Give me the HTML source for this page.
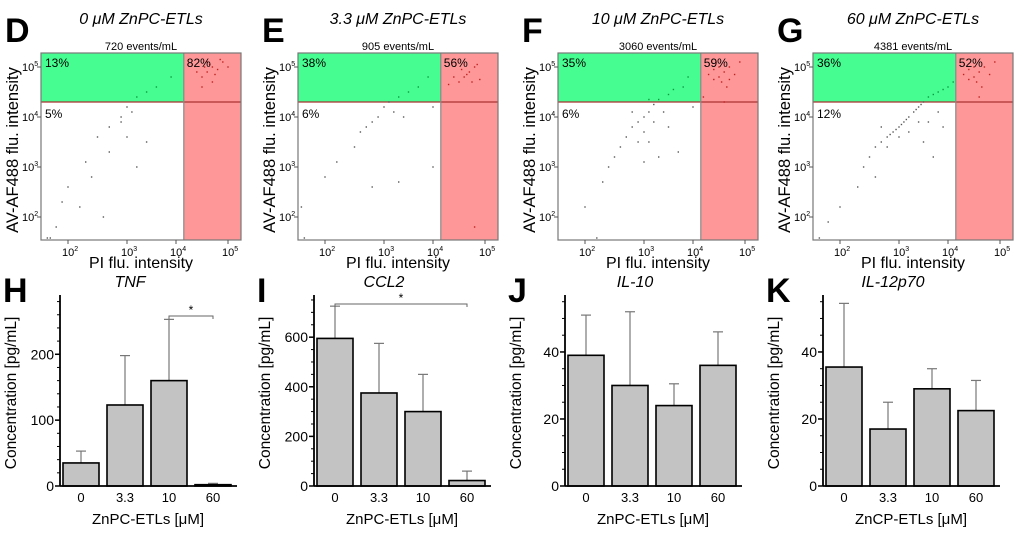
<!DOCTYPE html>
<html><head><meta charset="utf-8"><style>
body{margin:0;background:#fff;}
svg{display:block;font-family:"Liberation Sans",sans-serif;}
</style></head><body>
<svg id="fig" width="1024" height="534" viewBox="0 0 1024 534" xmlns="http://www.w3.org/2000/svg"></svg>
<script>
// ---------- Flow cytometry panel data ----------
const flowLetters = ['D','E','F','G'];
const flowTitles = ['0 μM ZnPC-ETLs','3.3 μM ZnPC-ETLs','10 μM ZnPC-ETLs','60 μM ZnPC-ETLs'];
const flowEvents = ['720 events/mL','905 events/mL','3060 events/mL','4381 events/mL'];
const flowUL = ['13%','38%','35%','36%'];
const flowUR = ['82%','56%','59%','52%'];
const flowLL = ['5%','6%','6%','12%'];
const xTickLabels = ['2','3','4','5'];
const yTickLabels = ['5','4','3','2'];
const gateX = 4.15, gateY = 4.3;
// points as [log10 PI, log10 AV]
const ptsD = [[4.6,4.9],[4.7,5.0],[4.5,4.8],[4.8,4.95],[4.65,5.05],[4.9,5.1],[4.55,5.0],[4.75,4.85],[4.4,4.9],[5.0,5.0],[4.7,4.7],[4.85,5.15],[4.6,5.1],[4.5,4.6],[3.9,4.8],[3.6,4.6],[3.4,4.5],[3.2,4.4],[3.0,4.2],[3.1,4.1],[2.9,4.0],[2.7,3.8],[2.5,3.6],[2.7,3.3],[2.3,3.1],[2.4,2.8],[2.0,2.6],[1.9,2.3],[1.8,1.8],[2.2,2.2],[2.6,2.0],[1.7,1.5],[3.0,3.6],[3.4,3.5],[2.9,3.9],[3.2,3.0],[1.65,1.5]];
const ptsE = [[4.6,4.8],[4.7,4.9],[4.5,4.7],[4.8,5.0],[4.65,4.85],[4.9,4.75],[4.55,4.95],[4.75,4.7],[4.4,4.8],[4.85,5.05],[4.3,4.65],[3.9,4.8],[3.7,4.6],[3.5,4.5],[3.3,4.4],[3.1,4.3],[3.0,4.2],[2.9,4.0],[2.8,3.9],[2.7,3.8],[2.6,3.7],[3.2,4.1],[3.4,4.0],[2.5,3.4],[2.2,3.1],[2.0,2.8],[1.6,2.2],[2.8,2.6],[3.3,2.7],[4.0,3.0],[4.0,4.2],[1.65,1.5],[4.8,1.8]];
const ptsF = [[4.5,4.8],[4.6,4.9],[4.4,4.75],[4.7,5.0],[4.55,4.7],[4.8,4.85],[4.5,5.0],[4.65,4.6],[4.3,4.85],[4.9,5.1],[4.2,4.4],[4.6,4.3],[4.4,4.95],[4.7,4.75],[3.9,4.8],[3.8,4.6],[3.6,4.55],[3.5,4.45],[3.3,4.35],[3.2,4.25],[3.1,4.1],[3.0,4.0],[2.9,3.9],[2.8,3.8],[3.0,3.7],[2.7,3.6],[3.2,3.9],[2.9,3.5],[2.6,3.4],[3.4,4.1],[3.5,3.8],[3.1,3.5],[2.5,3.2],[2.4,3.0],[3.3,3.2],[3.0,3.1],[2.3,2.7],[2.0,2.2],[3.7,3.3],[4.0,4.2],[2.8,4.1],[3.1,4.35],[2.2,1.5]];
const ptsG = [[4.5,4.8],[4.6,4.9],[4.4,4.75],[4.7,5.0],[4.55,4.7],[4.8,4.85],[4.5,5.0],[4.65,4.6],[4.3,4.85],[4.9,5.1],[4.6,4.4],[4.4,4.95],[4.1,4.7],[4.0,4.6],[3.9,4.55],[3.8,4.5],[3.7,4.45],[3.6,4.4],[3.5,4.3],[3.4,4.2],[3.3,4.1],[3.2,4.0],[3.1,3.9],[3.0,3.8],[2.9,3.7],[2.8,3.6],[2.7,3.5],[2.6,3.4],[3.15,3.95],[3.05,3.85],[2.95,3.75],[3.35,4.15],[3.45,4.25],[2.85,3.65],[3.0,3.6],[3.2,3.7],[3.4,3.9],[2.8,3.4],[2.5,3.2],[2.4,3.0],[3.6,3.9],[3.8,4.1],[3.5,3.5],[2.3,2.6],[2.0,2.2],[1.8,1.9],[3.7,3.2],[2.6,2.8],[1.65,1.5],[3.9,3.8],[2.7,3.8]];
const flowPts = [ptsD, ptsE, ptsF, ptsG];

// ---------- Bar panel data ----------
const barLetters = ['H','I','J','K'];
const barTitles = ['TNF','CCL2','IL-10','IL-12p70'];
const barCats = ['0','3.3','10','60'];
const barXTitles = ['ZnPC-ETLs [μM]','ZnPC-ETLs [μM]','ZnPC-ETLs [μM]','ZnCP-ETLs [μM]'];
const tnfVals = [35,123,160,2];
const tnfErr = [18,75,93,2];
const ccl2Vals = [595,375,300,22];
const ccl2Err = [130,200,150,38];
const il10Vals = [39,30,24,36];
const il10Err = [12,22,6.5,10];
const il12Vals = [35.5,17,29,22.5];
const il12Err = [19,8,6,9];
const barVals = [tnfVals, ccl2Vals, il10Vals, il12Vals];
const barErrs = [tnfErr, ccl2Err, il10Err, il12Err];
const majorTicks = [[0,100,200],[0,200,400,600],[0,20,40],[0,20,40]];
const minorStep = [20,50,5,5];
const axisMax = [290,770,57,57];
const sigBrackets = [[2,3],[0,3],null,null];

const NS='http://www.w3.org/2000/svg';
const svg=document.getElementById('fig');
function mk(tag,attrs,parent,text){const e=document.createElementNS(NS,tag);for(const k in attrs)e.setAttribute(k,attrs[k]);if(text!==undefined)e.textContent=text;(parent||svg).appendChild(e);return e;}

// ---------- Flow panels ----------
const boxLefts=[41,298,558,813], boxW=200, boxTop=53, boxBot=240;
const xTickOff=[27,86,135,187];
function xLog(l,left){
  let i=Math.min(2,Math.max(0,Math.floor(l-2)));
  return left+xTickOff[i]+(l-2-i)*(xTickOff[i+1]-xTickOff[i]);
}
function yLog(l){return 117-(l-4)*50;}
for(let p=0;p<4;p++){
  const L=boxLefts[p];
  const g=mk('g',{});
  
  
  const lt=mk('text',{x:L-36,y:42,'font-size':34,'font-weight':'bold'},g,flowLetters[p]);
  
  const tt=mk('text',{x:L+100,y:24,'font-size':16,'font-style':'italic','text-anchor':'middle'},g,flowTitles[p]);
  
  const ev=mk('text',{x:L+100,y:50,'font-size':11,'text-anchor':'middle'},g,flowEvents[p]);
  
  const gx=xLog(gateX,L), gy=yLog(gateY);
  const gr=mk('rect',{x:L,y:boxTop,width:gx-L,height:gy-boxTop,fill:'#46fd91'},g);
  
  const rr=mk('rect',{x:gx,y:boxTop,width:L+boxW-gx,height:boxBot-boxTop,fill:'#fe9898'},g);
  
  mk('line',{x1:L,y1:gy,x2:L+boxW,y2:gy,stroke:'#a33',"stroke-width":1.2},g);
  mk('line',{x1:gx,y1:boxTop,x2:gx,y2:boxBot,stroke:'#888',"stroke-width":1.2},g);
  for(const pt of flowPts[p]){
    let cx=xLog(pt[0],L), cy=yLog(pt[1]);
    cx=Math.max(L+2,Math.min(L+boxW-2,cx)); cy=Math.max(boxTop+2,Math.min(boxBot-2,cy));
    const inRed=pt[0]>gateX, inGreen=!inRed&&pt[1]>gateY;
    const d=mk('rect',{x:cx-0.7,y:cy-0.7,width:1.4,height:1.4,fill:inRed?'#c02020':(inGreen?'#0a9a40':'#555')},g);
    
  }
  mk('rect',{x:L,y:boxTop,width:boxW,height:boxBot-boxTop,fill:'none',stroke:'#777',"stroke-width":1.2},g);
  for(let i=0;i<4;i++){
    const tx=L+xTickOff[i];
    mk('line',{x1:tx,y1:boxBot,x2:tx,y2:boxBot+4,stroke:'#555'},g);
    const t=mk('text',{x:tx-6,y:boxBot+16,'font-size':11},g,'10');
    mk('tspan',{'font-size':7,dy:-5},t,xTickLabels[i]);
    const ty=yLog(+yTickLabels[i]);
    mk('line',{x1:L-4,y1:ty,x2:L,y2:ty,stroke:'#555'},g);
    const t2=mk('text',{x:L-19,y:ty+4,'font-size':11},g,'10');
    mk('tspan',{'font-size':7,dy:-5},t2,yTickLabels[i]);
  }
  const q1=mk('text',{x:L+4,y:boxTop+14,'font-size':12},g,flowUL[p]);
  const q2=mk('text',{x:gx+3,y:boxTop+14,'font-size':12},g,flowUR[p]);
  const q3=mk('text',{x:L+4,y:gy+16,'font-size':12},g,flowLL[p]);
  const xt=mk('text',{x:L+100,y:268,'font-size':16,'text-anchor':'middle'},g,'PI flu. intensity');
  
  const yt=mk('text',{x:0,y:0,'font-size':16.5,'text-anchor':'middle',transform:`translate(${L-23},150) rotate(-90)`},g,'AV-AF488 flu. intensity');
  
}

// ---------- Bar panels ----------
const axisXs=[60,314,565,823], zeroY=486, topY=295, axLen=177;
const barOff=[3,47,91,135], barW=36;
for(let p=0;p<4;p++){
  const A=axisXs[p];
  const ys=v=>zeroY-v*(zeroY-topY)/axisMax[p];
  const g=mk('g',{});
  
  
  const lt=mk('text',{x:A-57,y:302,'font-size':34,'font-weight':'bold'},g,barLetters[p]);
  
  const tt=mk('text',{x:A+70,y:287,'font-size':16,'font-style':'italic','text-anchor':'middle'},g,barTitles[p]);
  
  for(let i=0;i<4;i++){
    const v=barVals[p][i], e=barErrs[p][i];
    const bx=A+barOff[i], by=ys(v), cx=bx+barW/2, ey=ys(v+e);
    const eb=mk('line',{x1:cx,y1:by,x2:cx,y2:ey,stroke:'#777',"stroke-width":1.2},g);
    
    mk('line',{x1:cx-5,y1:ey,x2:cx+5,y2:ey,stroke:'#777',"stroke-width":1.2},g);
    const b=mk('rect',{x:bx,y:by,width:barW,height:zeroY-by,fill:'#c3c3c3',stroke:'#000',"stroke-width":1.6},g);
    
    const tl=mk('text',{x:cx,y:502,'font-size':13,'text-anchor':'middle'},g,barCats[i]);
    
  }
  mk('line',{x1:A,y1:topY,x2:A,y2:zeroY,stroke:'#000',"stroke-width":1.8},g);
  mk('line',{x1:A,y1:zeroY,x2:A+axLen,y2:zeroY,stroke:'#000',"stroke-width":1.8},g);
  for(let v=0;v<=axisMax[p];v+=minorStep[p]){mk('line',{x1:A-3,y1:ys(v),x2:A,y2:ys(v),stroke:'#000'},g);}
  for(const v of majorTicks[p]){
    mk('line',{x1:A-5,y1:ys(v),x2:A,y2:ys(v),stroke:'#000',"stroke-width":1.5},g);
    const t=mk('text',{x:A-6,y:ys(v)+5,'font-size':14,'text-anchor':'end'},g,String(v));
    
  }
  const sb=sigBrackets[p];
  if(sb){
    const x1=A+barOff[sb[0]]+barW/2, x2=A+barOff[sb[1]]+barW/2, y=p===0?316:304;
    const br=mk('path',{d:`M${x1},${y+3}V${y}H${x2}V${y+3}`,fill:'none',stroke:'#666'},g);
    
    mk('text',{x:(x1+x2)/2,y:y-2,'font-size':12,'text-anchor':'middle'},g,'*');
  }
  const xt=mk('text',{x:A+88,y:524,'font-size':15,'text-anchor':'middle'},g,barXTitles[p]);
  
  const yt=mk('text',{x:0,y:0,'font-size':15.5,'text-anchor':'middle',transform:`translate(${A-44},393) rotate(-90)`},g,'Concentration [pg/mL]');
  
}
</script>
</body></html>
